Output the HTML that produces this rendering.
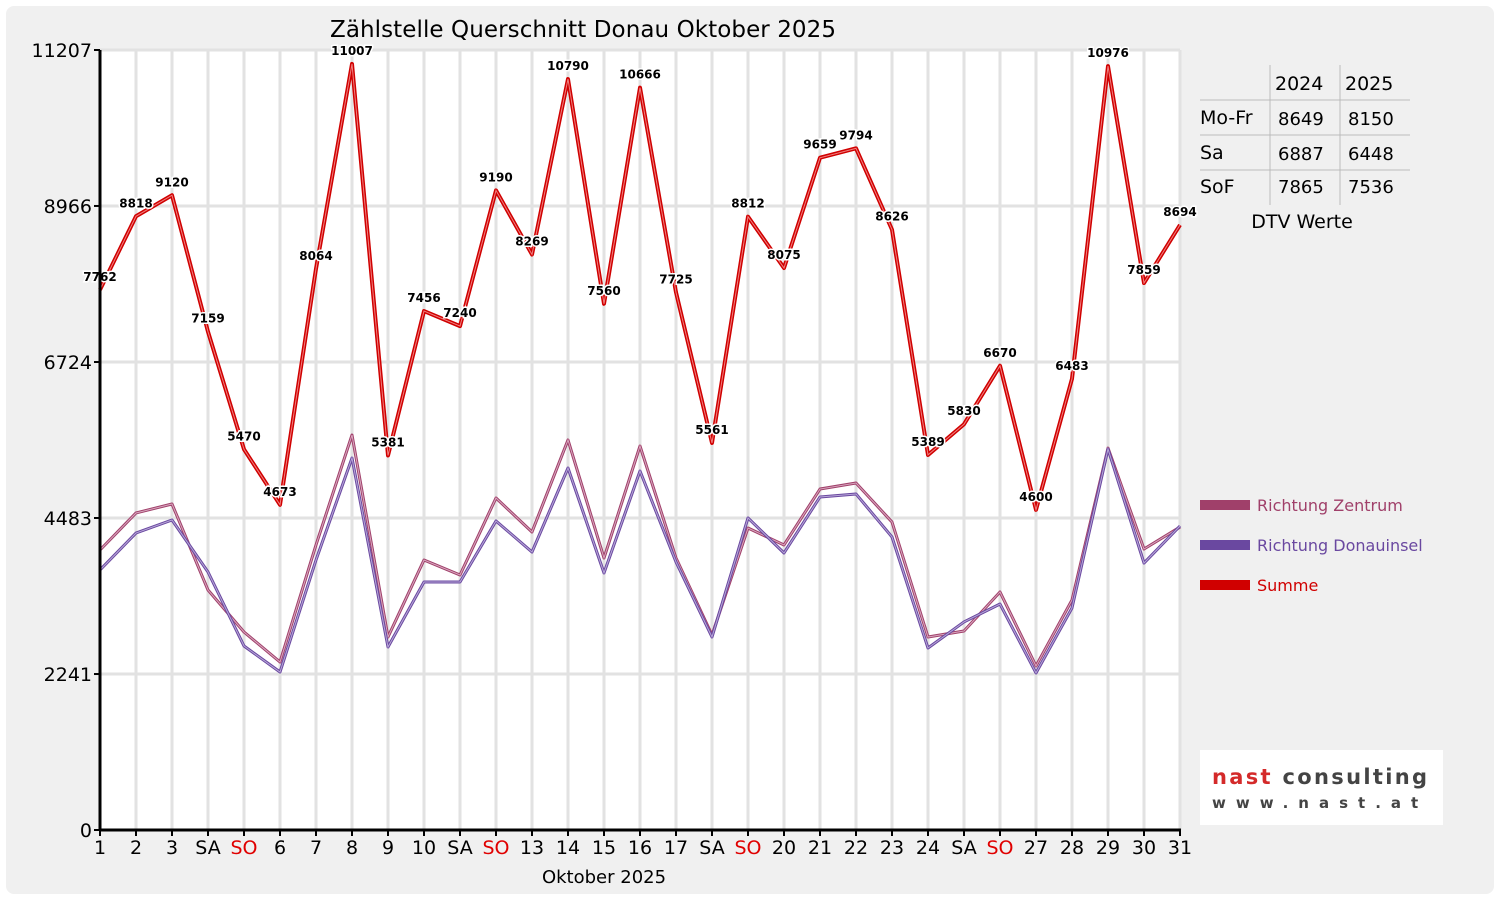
<!DOCTYPE html>
<html><head><meta charset="utf-8"><style>
body{margin:0;background:#fff;font-family:"Liberation Sans","DejaVu Sans",sans-serif;}
svg text{font-family:"DejaVu Sans","Liberation Sans",sans-serif;}
</style></head><body>
<svg id="c" width="1500" height="900">
<rect x="0" y="0" width="1500" height="900" fill="#fff"/>
<rect x="6" y="6" width="1488" height="888" rx="8" fill="#f0f0f0"/>
<rect x="100" y="50" width="1080" height="780" fill="#fff"/>
<g id="grid"></g><g id="series"></g><g id="labels"></g><g id="axes"></g>
<text x="583" y="37" font-size="23" text-anchor="middle" textLength="506">Zählstelle Querschnitt Donau Oktober 2025</text>
<text x="604" y="883" font-size="18" text-anchor="middle">Oktober 2025</text>
<g font-size="19">
<line x1="1270" y1="65" x2="1270" y2="205" stroke="#bbb"/>
<line x1="1340" y1="65" x2="1340" y2="205" stroke="#bbb"/>
<line x1="1200" y1="100" x2="1410" y2="100" stroke="#bbb"/>
<line x1="1200" y1="135" x2="1410" y2="135" stroke="#bbb"/>
<line x1="1200" y1="170" x2="1410" y2="170" stroke="#bbb"/>
<text x="1275" y="90">2024</text><text x="1345" y="90">2025</text>
<text x="1200" y="124">Mo-Fr</text><text x="1278" y="125" font-size="18">8649</text><text x="1348" y="125" font-size="18">8150</text>
<text x="1200" y="159">Sa</text><text x="1278" y="160" font-size="18">6887</text><text x="1348" y="160" font-size="18">6448</text>
<text x="1200" y="193">SoF</text><text x="1278" y="193" font-size="18">7865</text><text x="1348" y="193" font-size="18">7536</text>
<text x="1302" y="228" text-anchor="middle">DTV Werte</text>
</g>
<g font-size="16">
<rect x="1200" y="500" width="50" height="10" fill="#a0406a"/>
<text x="1257" y="511" fill="#a0406a">Richtung Zentrum</text>
<rect x="1200" y="540" width="50" height="10" fill="#6a48a0"/>
<text x="1257" y="551" fill="#6a48a0">Richtung Donauinsel</text>
<rect x="1200" y="580" width="50" height="10" fill="#d00000"/>
<text x="1257" y="591" fill="#d00000">Summe</text>
</g>
<g>
<rect x="1200" y="750" width="243" height="75" fill="#fff"/>
<text x="1212" y="784" font-size="21" font-weight="bold" fill="#d42a2a" font-family="Liberation Sans" textLength="215">nast <tspan fill="#444">consulting</tspan></text>
<text x="1212" y="808" font-size="15" font-weight="bold" fill="#444" letter-spacing="10" font-family="Liberation Sans">www.nast.at</text>
</g>
</svg>
<script>
const days=[1,2,3,4,5,6,7,8,9,10,11,12,13,14,15,16,17,18,19,20,21,22,23,24,25,26,27,28,29,30,31];
const dayLabels=["1","2","3","SA","SO","6","7","8","9","10","SA","SO","13","14","15","16","17","SA","SO","20","21","22","23","24","SA","SO","27","28","29","30","31"];
const summe=[7762,8818,9120,7159,5470,4673,8064,11007,5381,7456,7240,9190,8269,10790,7560,10666,7725,5561,8812,8075,9659,9794,8626,5389,5830,6670,4600,6483,10976,7859,8694];
const zentrum=[4023,4555,4684,3448,2845,2414,4095,5675,2773,3879,3664,4770,4282,5604,3908,5517,3908,2802,4339,4095,4899,4986,4425,2773,2859,3420,2356,3305,5488,4037,4353];
const donauinsel=[3736,4267,4454,3707,2644,2270,3879,5345,2629,3563,3563,4440,3994,5201,3693,5158,3851,2773,4483,3980,4785,4828,4210,2615,2989,3247,2256,3190,5474,3836,4368];
const yTicks=[0,2241,4483,6724,8966,11207];
const yMax=11207;
const X=d=>100+(d-1)*36, Y=v=>830-v*780/yMax;
const NS="http://www.w3.org/2000/svg";
function mk(p,t,a){const e=document.createElementNS(NS,t);for(const k in a)e.setAttribute(k,a[k]);p.appendChild(e);return e;}
const grid=document.getElementById('grid'),ser=document.getElementById('series'),lab=document.getElementById('labels'),ax=document.getElementById('axes');
days.forEach(d=>{const l=mk(grid,'line',{x1:X(d),x2:X(d),y1:50,y2:830,stroke:'#e2e2e2','stroke-width':3});

});
yTicks.forEach(v=>{const l=mk(grid,'line',{x1:100,x2:1180,y1:Y(v),y2:Y(v),stroke:'#e2e2e2','stroke-width':3});


const t=mk(ax,'text',{x:92,y:Y(v)+7,'font-size':19,'text-anchor':'end'});t.textContent=v;


mk(ax,'line',{x1:94,x2:100,y1:Y(v),y2:Y(v),stroke:'#000','stroke-width':2});});
function line(vals,col,w,name){const p=mk(ser,'polyline',{points:vals.map((v,i)=>X(days[i])+','+Y(v)).join(' '),fill:'none',stroke:col,'stroke-width':w,'stroke-linejoin':'round'});

return p;}
line(zentrum,'#a0406a',3,'line-zentrum');
mk(ser,'polyline',{points:zentrum.map((v,i)=>X(days[i])+','+Y(v)).join(' '),fill:'none',stroke:'#d9a8c0','stroke-width':1});
line(donauinsel,'#6a48a0',3,'line-donauinsel');
mk(ser,'polyline',{points:donauinsel.map((v,i)=>X(days[i])+','+Y(v)).join(' '),fill:'none',stroke:'#b8a8d8','stroke-width':1});
line(summe,'#d00000',4,'line-summe');
mk(ser,'polyline',{points:summe.map((v,i)=>X(days[i])+','+Y(v)).join(' '),fill:'none',stroke:'#f08080','stroke-width':1});
summe.forEach((v,i)=>{const t=mk(lab,'text',{x:X(days[i]),y:Y(v)-9,'font-size':12,'font-weight':'bold','text-anchor':'middle',stroke:'#fff','stroke-width':3,'paint-order':'stroke'});t.textContent=v;

});
mk(ax,'line',{x1:100,x2:100,y1:50,y2:831,stroke:'#000','stroke-width':3});
mk(ax,'line',{x1:99,x2:1181,y1:830,y2:830,stroke:'#000','stroke-width':3});
days.forEach((d,i)=>{mk(ax,'line',{x1:X(d),x2:X(d),y1:830,y2:836,stroke:'#000','stroke-width':2});
const t=mk(ax,'text',{x:X(d),y:854,'font-size':19,'text-anchor':'middle',fill:dayLabels[i]==='SO'?'#e00000':'#000'});t.textContent=dayLabels[i];

});
</script>
</body></html>
